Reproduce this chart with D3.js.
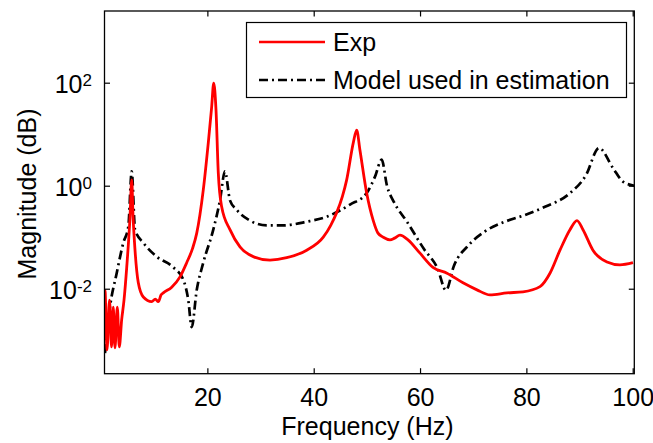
<!DOCTYPE html>
<html>
<head>
<meta charset="utf-8">
<script src="https://cdn.jsdelivr.net/npm/d3@7"></script>
<style>
  body { margin: 0; background: white; }
  svg { display: block; }
  text { font-family: "Liberation Sans", Arial, sans-serif; fill: #000; }
</style>
</head>
<body>
<svg></svg>
<script>
// Data
const freqExp = [0.65, 0.74, 1.12, 1.59, 1.97, 2.3, 2.62, 3.06, 3.43, 3.88, 4.32, 4.83, 5.45, 5.77, 6.01,
  6.39, 7.01, 7.95, 9.53, 10.2, 10.77, 11.3, 11.71, 13.29, 14.85, 16.11, 17.2, 18.0, 19.23, 20.17, 20.81,
  21.19, 21.62, 22.05, 22.69, 24.25, 26.13, 28.64, 31.78, 34.92, 38.68, 41.8, 43.2, 44.32, 45.4, 46.2, 47.44,
  48.08, 48.7, 49.96, 51.2, 52.09, 53.08, 54.35, 55.2, 56.23, 57.73, 59.99, 62.43, 65.07, 68.08, 70.71,
  73.15, 76.35, 79.36, 82.56, 84.44, 86.32, 88.2, 89.52, 90.65, 92.52, 95.16, 97.6, 100.05];
const magExp = [1.6e-3, 9.3e-3, 6.5e-4, 6.0e-3, 7.4e-4, 4.4e-3, 7.1e-4, 4.4e-3, 7.4e-4, 2.5e-3, 6.0e-3, 2.6e-2, 0.25, 1.3, 0.27,
  5.6e-2, 1.3e-2, 6.9e-3, 5.6e-3, 6.3e-3, 5.6e-3, 7.6e-3, 8.3e-3, 1.07e-2, 1.7e-2, 3.2e-2, 6.0e-2, 0.12, 0.83, 6.8, 34,
  98, 30, 1.8, 0.39, 0.14, 6.5e-2, 4.2e-2, 3.6e-2, 4.0e-2, 5.6e-2, 0.10, 0.17, 0.30, 0.62, 1.3, 6.8,
  12, 4.9, 0.72, 0.21, 0.12, 0.10, 8.9e-2, 9.6e-2, 0.11, 8.9e-2, 4.9e-2, 2.6e-2, 2.0e-2, 1.3e-2, 9.5e-3,
  7.6e-3, 8.3e-3, 8.7e-3, 1.1e-2, 2.0e-2, 5.6e-2, 0.14, 0.21, 0.14, 5.6e-2, 3.3e-2, 2.9e-2, 3.2e-2];

const freqModel = [0.74, 1.68, 2.94, 4.19, 5.13, 5.77, 6.39, 7.95, 10.47, 13.59, 15.47, 16.41, 17.05, 17.99,
  19.23, 21.11, 22.37, 23.31, 24.25, 25.51, 28.02, 31.16, 34.28, 38.68, 42.44, 46.83, 49.96, 51.53,
  52.78, 53.78, 55.1, 57.54, 60.74, 63.28, 64.88, 66.38, 69.02, 72.22, 75.98, 79.74, 83.5, 88.01,
  91.21, 93.66, 96.29, 98.17, 100.3];
const magModel = [5.6e-4, 4.4e-3, 2.0e-2, 7.8e-2, 0.16, 1.9, 0.14, 7.8e-2, 4.2e-2, 2.6e-2, 1.5e-2, 6.0e-3, 1.8e-3, 9.3e-3,
  3.2e-2, 0.14, 0.52, 1.9, 0.52, 0.34, 0.21, 0.17, 0.17, 0.20, 0.25, 0.43, 0.72, 1.5,
  3.2, 1.0, 0.48, 0.20, 5.9e-2, 2.5e-2, 9.3e-3, 2.8e-2, 6.8e-2, 0.13, 0.20, 0.27, 0.39, 0.69,
  1.6, 5.4, 2.2, 1.2, 1.0];

const xTicks = [20, 40, 60, 80, 100];
const yTickExp = [-2, 0, 2];
const seriesNames = ["Exp", "Model used in estimation"];

const width = 653, height = 443;
const plot = { left: 104.5, right: 634.3, top: 11, bottom: 373.7 };

const svg = d3.select("svg").attr("width", width).attr("height", height);

const x = d3.scaleLinear().domain([0.65, 100.3]).range([plot.left, plot.right]);
const y = d3.scaleLog().domain([Math.pow(10, -3.65), Math.pow(10, 3.392)]).range([plot.bottom, plot.top]);

svg.append("clipPath").attr("id", "clip")
  .append("rect")
  .attr("x", plot.left).attr("y", plot.top)
  .attr("width", plot.right - plot.left).attr("height", plot.bottom - plot.top);

const line = d3.line().x(d => x(d[0])).y(d => y(d[1])).curve(d3.curveMonotoneX);

const g = svg.append("g").attr("clip-path", "url(#clip)");

g.append("path")
  .datum(d3.zip(freqModel, magModel))
  .attr("d", line)
  .attr("fill", "none")
  .attr("stroke", "#000")
  .attr("stroke-width", 2.7)
  .attr("stroke-dasharray", "9,4,2,4");

g.append("path")
  .datum(d3.zip(freqExp, magExp))
  .attr("d", line)
  .attr("fill", "none")
  .attr("stroke", "#ff0000")
  .attr("stroke-width", 2.8)
  .attr("stroke-linejoin", "round");

// Axes box with inward ticks (MATLAB style)
const tickLen = 5.5;
const axisStyle = sel => {
  sel.select(".domain").remove();
  sel.selectAll(".tick line").attr("stroke", "#000").attr("stroke-width", 1.2);
};

svg.append("g")
  .attr("transform", `translate(0,${plot.bottom})`)
  .call(d3.axisBottom(x).tickValues(xTicks).tickSize(-tickLen))
  .call(axisStyle)
  .call(a => a.selectAll(".tick text").attr("font-size", 25).attr("dy", null).attr("y", 32)
    .style("font-family", "'Liberation Sans', Arial, sans-serif"));

svg.append("g")
  .attr("transform", `translate(0,${plot.top})`)
  .call(d3.axisTop(x).tickValues(xTicks).tickSize(-tickLen).tickFormat(""))
  .call(axisStyle);

const yTicks = yTickExp.map(e => Math.pow(10, e));

svg.append("g")
  .attr("transform", `translate(${plot.left},0)`)
  .call(d3.axisLeft(y).tickValues(yTicks).tickSize(-tickLen).tickFormat(""))
  .call(axisStyle);

svg.append("g")
  .attr("transform", `translate(${plot.right},0)`)
  .call(d3.axisRight(y).tickValues(yTicks).tickSize(-tickLen).tickFormat(""))
  .call(axisStyle);

// y tick labels as 10^n
const yLab = svg.append("g").selectAll("text")
  .data(yTickExp)
  .join("text")
  .attr("x", 92)
  .attr("y", d => y(Math.pow(10, d)) + 10)
  .attr("text-anchor", "end")
  .attr("font-size", 25);
yLab.append("tspan").text("10");
yLab.append("tspan").attr("dy", -7).attr("font-size", 17).text(d => d);

svg.append("rect")
  .attr("x", plot.left).attr("y", plot.top)
  .attr("width", plot.right - plot.left).attr("height", plot.bottom - plot.top)
  .attr("fill", "none").attr("stroke", "#000").attr("stroke-width", 1.3);

// Axis labels
svg.append("text")
  .attr("x", (plot.left + plot.right) / 2 - 2)
  .attr("y", 435)
  .attr("text-anchor", "middle")
  .attr("font-size", 25)
  .text("Frequency (Hz)");

svg.append("text")
  .attr("transform", "rotate(-90)")
  .attr("x", -194)
  .attr("y", 36)
  .attr("text-anchor", "middle")
  .attr("font-size", 25)
  .text("Magnitude (dB)");

// Legend
const legend = svg.append("g");
legend.append("rect")
  .attr("x", 246.5).attr("y", 22.5)
  .attr("width", 380).attr("height", 75)
  .attr("fill", "white").attr("stroke", "#000").attr("stroke-width", 1.2);

const legendRows = [
  { name: seriesNames[0], color: "#ff0000", dash: null, yy: 42 },
  { name: seriesNames[1], color: "#000", dash: "9,4,2,4", yy: 80 }
];
legendRows.forEach(r => {
  legend.append("line")
    .attr("x1", 259).attr("x2", 325)
    .attr("y1", r.yy).attr("y2", r.yy)
    .attr("stroke", r.color).attr("stroke-width", 2.6)
    .attr("stroke-dasharray", r.dash);
  legend.append("text")
    .attr("x", 333).attr("y", r.yy + 9)
    .attr("font-size", 25)
    .text(r.name);
});
</script>
</body>
</html>
